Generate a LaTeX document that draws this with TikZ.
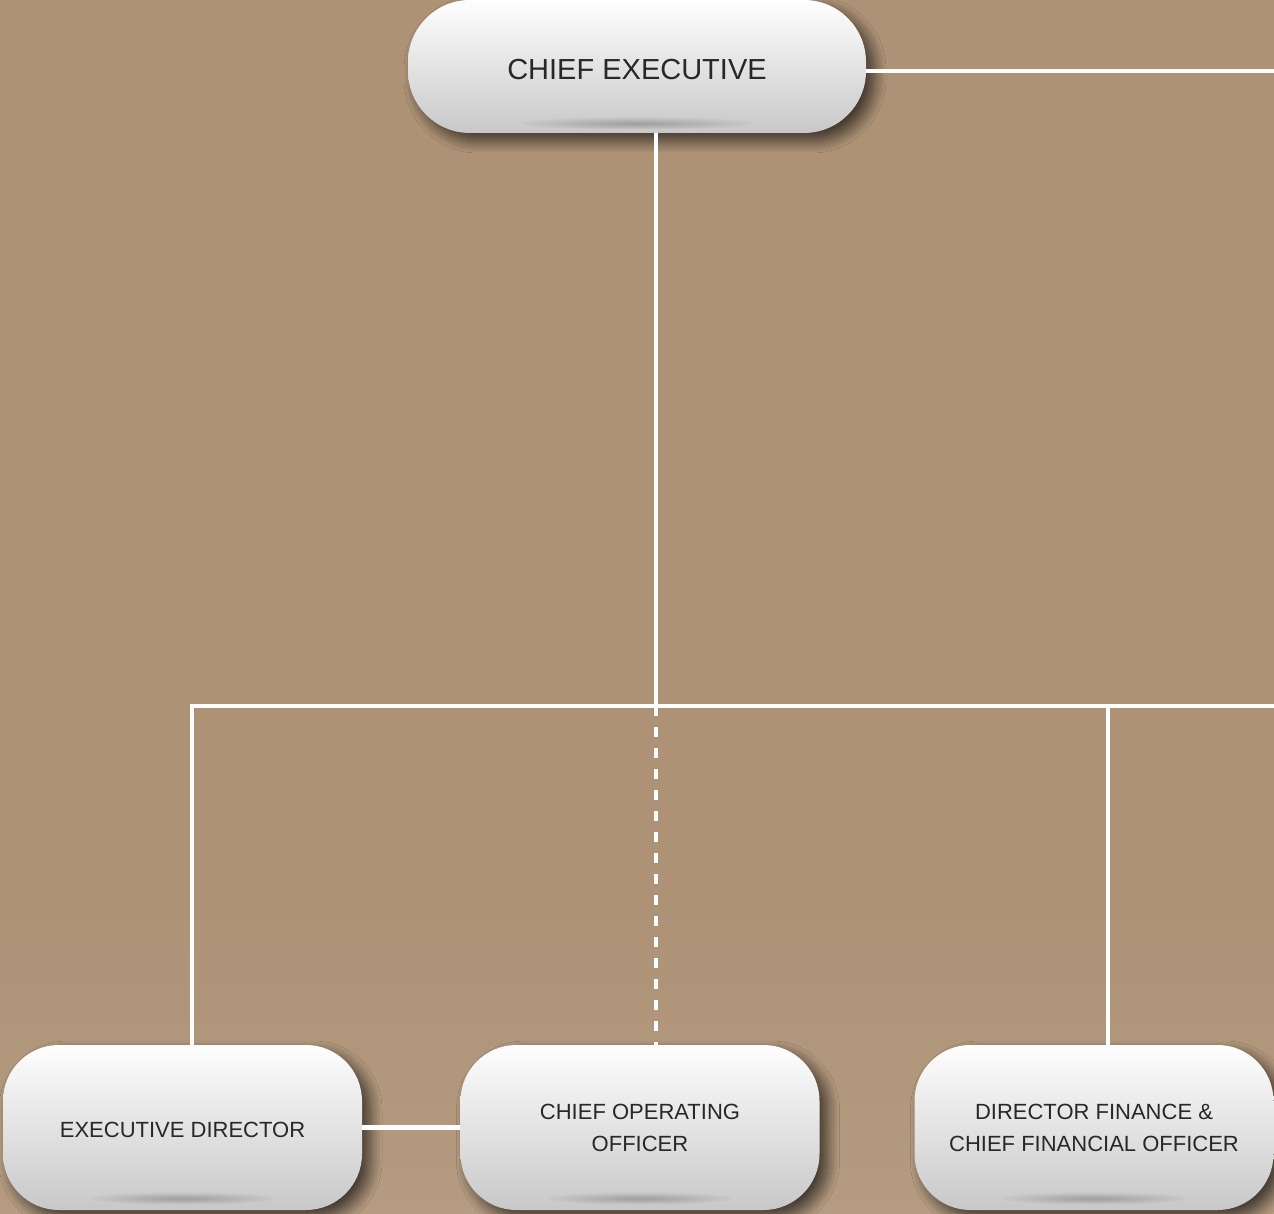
\documentclass[tikz,border=0pt]{standalone}
\usepackage{fontspec}
\setmainfont{Liberation Sans}
\usetikzlibrary{shadows.blur,calc}
\definecolor{bgbrown}{RGB}{173,146,118}
\definecolor{bglight}{RGB}{180,155,129}
\definecolor{boxtop}{RGB}{254,254,254}
\definecolor{boxbot}{RGB}{200,200,200}
\definecolor{txtgray}{RGB}{40,40,40}
\newcommand{\shiftdown}[2]{\raisebox{-#1}[\height][\depth]{#2}}
\newcommand{\twolines}[2]{\shiftdown{1pt}{\begin{tabular}{@{}c@{}}#1\\#2\end{tabular}}}
\tikzset{
  conn/.style={draw=white,line width=2.3pt},
  dashconn/.style={conn,dash pattern=on 5pt off 5.5pt},
  box/.style={draw=none,top color=boxtop,bottom color=boxbot,
    blur shadow={shadow xshift=4pt,shadow yshift=-4pt,shadow blur radius=6pt,shadow blur steps=12,shadow opacity=65},
    text=txtgray,align=center,inner sep=0pt},
  topbox/.style={box,minimum width=229pt,minimum height=66.5pt,rounded corners=31pt,font=\fontsize{14.5}{17}\selectfont},
  lowbox/.style={box,minimum width=179.5pt,minimum height=82.5pt,rounded corners=28pt,font=\fontsize{11}{16}\selectfont},
  strip/.style={inner color=black!38,outer color=boxbot}
}
\begin{document}
\begin{tikzpicture}[x=0.5pt,y=-0.5pt]
\fill[bgbrown] (0,0) rectangle (1274,1214);
\shade[top color=bgbrown,bottom color=bglight] (0,900) rectangle (1274,1214);
\useasboundingbox (0,0) rectangle (1274,1214);
% nodes
\node[topbox] (ce) at (637,66.5) {\shiftdown{1.5pt}{CHIEF EXECUTIVE}};
\node[lowbox] (ed) at (182.5,1127.5) {\shiftdown{1pt}{EXECUTIVE DIRECTOR}};
\node[lowbox] (coo) at (640,1127.5) {\twolines{CHIEF OPERATING}{OFFICER}};
\node[lowbox] (df) at (1094,1127.5) {\twolines{DIRECTOR FINANCE \&}{CHIEF FINANCIAL OFFICER}};
% inner bottom strips
\shade[strip] ($(ce.south)+(0,-10)$) ellipse [x radius=58pt,y radius=3pt];
\shade[strip] ($(ed.south)+(0,-12)$) ellipse [x radius=46pt,y radius=3pt];
\shade[strip] ($(coo.south)+(0,-12)$) ellipse [x radius=46pt,y radius=3pt];
\shade[strip] ($(df.south)+(0,-12)$) ellipse [x radius=46pt,y radius=3pt];
% coordinates
\coordinate (ceout) at (1274,71);
\coordinate (junc) at (656,706);
\coordinate (hl) at (192,706);
\coordinate (hr) at (1274,706);
\coordinate (dfj) at (1108,706);
% connectors
\draw[conn] (ce.east |- ceout) -- (ceout);
\draw[conn] (ce.south -| junc) -- (junc);
\draw[conn] (ed.north -| hl) -- (hl) -- (hr);
\draw[conn] (dfj) -- (df.north -| dfj);
\draw[dashconn] (junc) -- (coo.north -| junc);
\draw[conn] (ed.east) -- (coo.west);
\end{tikzpicture}
\end{document}
